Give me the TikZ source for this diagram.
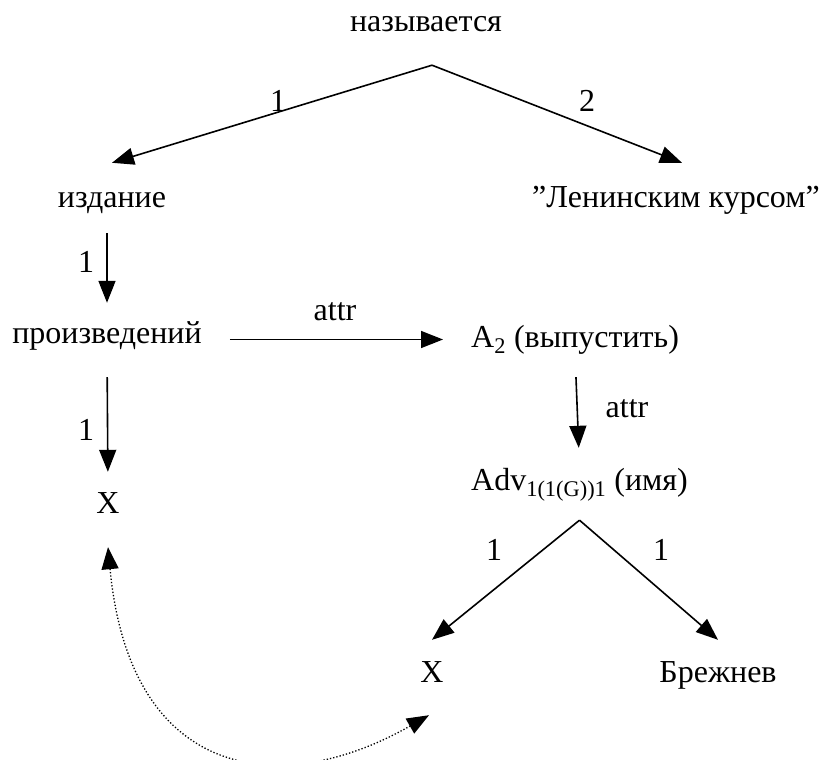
\documentclass[tikz,border=0pt]{standalone}
\usepackage{fontspec}
\setmainfont{Liberation Serif}
\usetikzlibrary{arrows.meta}

\begin{document}
\begin{tikzpicture}[x=1pt,y=-1pt,
  word/.style={font=\fontsize{32}{38}\selectfont,inner sep=0pt,text height=22pt,text depth=7pt,anchor=base},
  arc/.style={-{Triangle[length=22pt,width=17pt]},line width=1.6pt},
  corefer/.style={{Triangle[length=22pt,width=17pt]}-{Triangle[length=22pt,width=17pt]},line width=1.3pt,dotted}]
\useasboundingbox (0,0) rectangle (827,760);
\node[word] (nazyv) at (426,32) {называется};
\node[word] (izd) at (112,207) {издание};
\node[word] (lenin) at (676,207) {\symbol{34}Ленинским курсом\symbol{34}};
\node[word] (proizv) at (107,343) {произведений};
\node[word,anchor=base west] (atwo) at (471,347) {A\textsubscript{2} (выпустить)};
\node[word] (xone) at (108,513) {X};
\node[word,anchor=base west] (adv) at (471,490) {Adv\textsubscript{1(1(G))1} (имя)};
\node[word] (xtwo) at (432,682) {X};
\node[word] (brezh) at (718,682) {Брежнев};
\coordinate (root) at ([xshift=6pt,yshift=-26pt]nazyv.south);
\coordinate (fork) at ([yshift=-23pt]adv.south);
\draw[arc] (root) -- ([yshift=22pt]izd.north);
\node[word] (lone) at (278,111) {1};
\draw[arc] (root) -- ([xshift=6pt,yshift=22pt]lenin.north);
\node[word] (ltwo) at (587,111) {2};
\draw[arc,shorten <=19pt,shorten >=18pt] (izd.south -| proizv.north) -- (proizv.north);
\node[word] (lthree) at (86,272) {1};
\draw[arc,shorten <=27pt,shorten >=19pt] (proizv.south) -- (xone.north);
\node[word] (lfour) at (86,440) {1};
\draw[arc,shorten <=28pt,shorten >=28pt] (proizv.east |- atwo.west) -- (atwo.west);
\node[word] (lattr) at (335,320) {attr};
\draw[arc,shorten <=23pt,shorten >=20pt] (atwo.south) -- (adv.north);
\node[word] (lattrb) at (627,417) {attr};
\draw[arc] (fork) -- ([yshift=20pt]xtwo.north);
\draw[arc] (fork) -- ([yshift=20pt]brezh.north);
\node[word] (lfive) at (494,560) {1};
\node[word] (lsix) at (661,560) {1};
\draw[corefer] ([yshift=-27pt]xone.south) .. controls +(22,233) and +(-149,85) .. ([xshift=-3pt,yshift=-26pt]xtwo.south);
\end{tikzpicture}
\end{document}
